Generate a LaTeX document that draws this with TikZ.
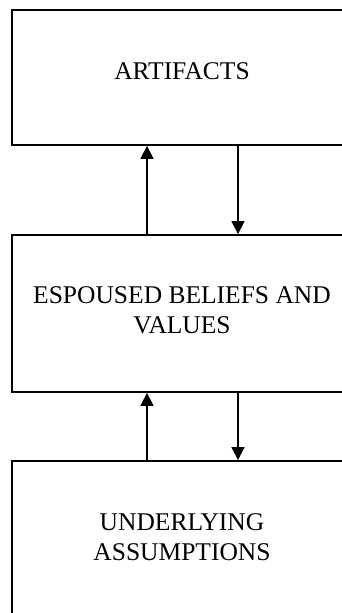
\documentclass[tikz,border=0pt]{standalone}
\usepackage{fontspec}
\setmainfont{Liberation Serif}
\usetikzlibrary{arrows.meta}

\begin{document}
\begin{tikzpicture}[x=1pt,y=-1pt,
  layerbox/.style={draw,line width=1.8pt,minimum width=340pt,align=center,
    font=\fontsize{25.5}{30}\selectfont},
  flow/.style={line width=1.5pt,-{Triangle[width=13pt,length=13pt]}}]
%set diagram size, the boxes run past the right and bottom edges
\path[use as bounding box] (0,0) rectangle (342,613);
\clip (0,0) rectangle (342,613);

%Shape: Rectangle
\node[layerbox,minimum height=135pt,text depth=12pt] (artifacts) at (182,77.5) {ARTIFACTS};
%Shape: Rectangle
\node[layerbox,minimum height=157pt,text depth=6pt] (values) at (182,313.5) {ESPOUSED BELIEFS AND\\VALUES};
%Shape: Rectangle
\node[layerbox,minimum height=156pt,text depth=4pt] (assumptions) at (182,539) {UNDERLYING\\ASSUMPTIONS};

\coordinate (upx) at (147,0);
\coordinate (dnx) at (238,0);

%Straight Lines
\draw[flow] (values.north -| upx) -- (artifacts.south -| upx);
\draw[flow] (artifacts.south -| dnx) -- (values.north -| dnx);
%Straight Lines
\draw[flow] (assumptions.north -| upx) -- (values.south -| upx);
\draw[flow] (values.south -| dnx) -- (assumptions.north -| dnx);

\end{tikzpicture}
\end{document}
